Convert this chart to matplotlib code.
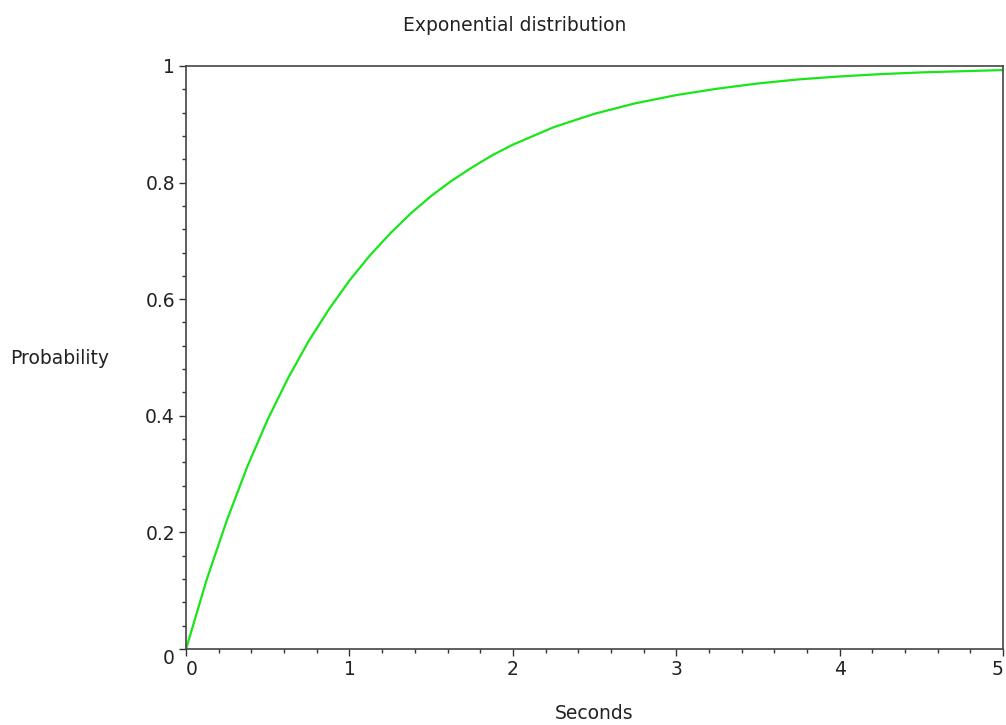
import matplotlib
matplotlib.use("Agg")
import matplotlib.pyplot as plt
from matplotlib.ticker import MultipleLocator

# values
seconds = [0, 0.125, 0.25, 0.375, 0.5, 0.625, 0.75, 0.875, 1.0, 1.125, 1.25, 1.375, 1.5,
           1.625, 1.75, 1.875, 2.0, 2.25, 2.5, 2.75, 3.0, 3.25, 3.5, 3.75, 4.0, 4.25,
           4.5, 4.75, 5.0]
probability = [0, 0.118, 0.221, 0.313, 0.394, 0.465, 0.528, 0.583, 0.632, 0.675, 0.713,
               0.747, 0.777, 0.803, 0.826, 0.847, 0.865, 0.895, 0.918, 0.936, 0.950,
               0.961, 0.970, 0.977, 0.982, 0.986, 0.989, 0.991, 0.993]
x_ticks = [0, 1, 2, 3, 4, 5]
y_ticks = [0, 0.2, 0.4, 0.6, 0.8, 1]
y_ticklabels = ["0", "0.2", "0.4", "0.6", "0.8", "1"]

plt.rcParams['font.family'] = ['DejaVu Sans']
fs = 13.5

fig = plt.figure(figsize=(10.06, 7.25), dpi=100)
ax = fig.add_axes([0.185, 0.105, 0.812, 0.804])

ax.plot(seconds, probability, color='#19e619', linewidth=1.6)

ax.set_xlim(0, 5)
ax.set_ylim(0, 1)
ax.set_xticks(x_ticks)
ax.set_yticks(y_ticks)
ax.set_yticklabels(y_ticklabels)
ax.xaxis.set_minor_locator(MultipleLocator(0.2))
ax.yaxis.set_minor_locator(MultipleLocator(0.04))
ax.tick_params(which='major', direction='out', length=5, width=1, labelsize=fs,
               color='#333333', labelcolor='#222222', pad=3)
ax.tick_params(which='minor', direction='out', length=3, width=1, color='#333333')
for s in ax.spines.values():
    s.set_color('#444444')
    s.set_linewidth(1.2)

# edge labels sit inside the tick like in the original
xl = ax.get_xticklabels()
xl[0].set_ha('left')
xl[-1].set_ha('right')
ax.get_yticklabels()[0].set_va('top')

fig.text(0.512, 0.965, "Exponential distribution", ha='center', va='center', fontsize=fs, color='#222222')
fig.text(0.059, 0.506, "Probability", ha='center', va='center', fontsize=fs, color='#222222')
fig.text(0.591, 0.016, "Seconds", ha='center', va='center', fontsize=fs, color='#222222')

fig.savefig("out.png", dpi=100)
